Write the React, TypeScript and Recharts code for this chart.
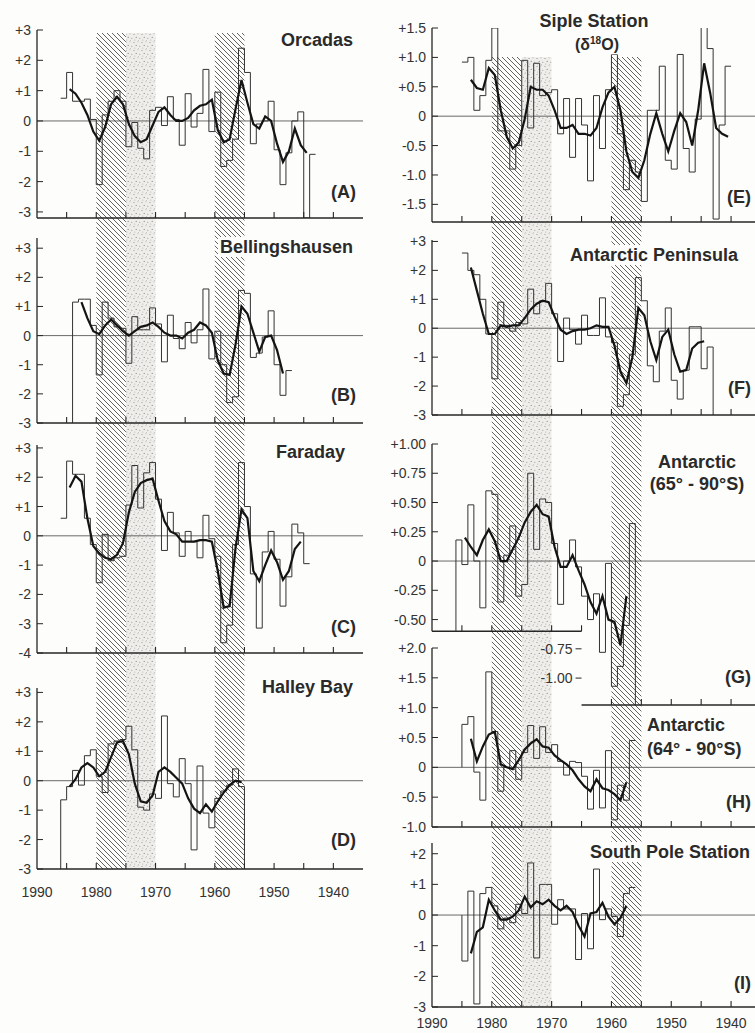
import React from 'react';
import { ComposedChart, Line, Area, XAxis, YAxis, ReferenceLine } from 'recharts';

// Annual temperature anomalies. Bar i spans the years [start - i - 1, start - i].
const orcadasStart = 1986;
const orcadasValues = [0.75, 1.6, 0.65, 0.65, 0.72, 0.05, -2.1, 0.2, 0.65, 1.0, 0.65, -0.85, -0.05, -0.9, -1.25, 0.35, 0.45, -0.15, 0.8, 0.05, -0.8, 0.9, -0.2, 0.25, 1.7, -0.35, 0.95, -1.5, -1.3, -0.6, 2.4, 1.6, -0.75, -0.1, 0.0, 0.65, -0.95, -2.1, -1.05, 0.0, 0.3, -3.2, -1.1];
const orcadasSmooth = [null, 1.05, 0.9, 0.6, 0.2, -0.35, -0.65, -0.2, 0.55, 0.8, 0.55, -0.1, -0.5, -0.7, -0.6, -0.15, 0.3, 0.45, 0.2, 0.0, 0.0, 0.1, 0.35, 0.5, 0.55, 0.7, -0.3, -0.7, -0.6, 0.4, 1.35, 0.6, -0.1, -0.25, 0.15, 0.0, -0.75, -1.35, -1.0, -0.25, -0.8, -1.05, null];

const bellingsStart = 1984;
const bellingsValues = [1.15, 1.25, 1.25, 0.35, -1.35, 1.15, 0.6, 0.3, 0.25, -0.95, 0.65, 0.2, 0.2, 0.95, 0.4, -0.9, 0.7, -0.1, -0.45, 0.45, -0.25, 0.2, 1.6, -0.8, 0.15, -1.0, -2.3, -2.1, 1.55, 1.45, -0.75, -0.6, -0.05, 0.85, -1.0, -2.05, -1.2];
const bellingsSmooth = [null, 1.15, 0.6, 0.15, 0.05, 0.35, 0.55, 0.35, 0.15, 0.0, 0.15, 0.3, 0.35, 0.45, 0.3, 0.1, 0.0, 0.0, -0.1, 0.1, 0.2, 0.45, 0.35, 0.1, -0.85, -1.3, -1.35, -0.3, 1.0, 0.75, 0.1, -0.55, -0.05, 0.0, -0.5, -1.3, null];

const faradayStart = 1986;
const faradayValues = [0.6, 2.55, 2.1, 2.1, 0.6, -0.3, -1.6, 0.05, -0.85, -0.75, -0.7, 1.05, 2.4, 0.95, 2.15, 2.5, 1.25, -0.5, 0.8, 0.1, -0.7, 0.15, -0.2, -0.75, 0.7, -0.1, -0.7, -3.65, -3.05, -0.3, 2.5, 1.0, -1.3, -3.15, -0.55, 0.15, -0.8, -2.4, -1.4, 0.4, 0.1, -0.95];
const faradaySmooth = [null, 1.65, 2.05, 1.85, 0.6, -0.35, -0.6, -0.75, -0.8, -0.65, -0.25, 0.8, 1.5, 1.8, 1.9, 1.95, 1.2, 0.5, 0.15, 0.05, -0.2, -0.2, -0.2, -0.15, -0.15, -0.2, -1.2, -2.45, -2.4, -0.4, 0.9, 0.6, -1.2, -1.55, -1.0, -0.5, -0.9, -1.5, -1.2, -0.45, -0.2, null];

const halleyStart = 1986;
const halleyValues = [-0.65, -0.2, 0.35, -0.15, 0.85, 1.05, 0.15, -0.4, 1.25, 1.35, 1.4, 1.85, 1.05, -0.9, -1.0, -0.45, -0.6, 2.2, -0.1, -0.55, 0.75, -0.1, -2.35, 0.5, -1.1, -1.6, -0.6, -0.35, -0.15, 0.4, -0.2];
const halleySmooth = [null, -0.2, 0.05, 0.45, 0.6, 0.45, 0.15, 0.3, 0.8, 1.3, 1.35, 0.9, -0.1, -0.7, -0.75, -0.5, 0.3, 0.45, 0.3, 0.1, -0.1, -0.6, -0.95, -1.1, -0.8, -1.05, -0.7, -0.4, -0.15, 0.0, -0.05];

const sipleStart = 1985;
const sipleValues = [0.92, 1.0, 0.1, 0.35, 0.95, 1.5, -0.25, -0.25, -0.9, -0.5, 0.95, -0.2, 0.9, 0.35, 0.4, 0.45, -0.3, 0.3, -0.7, 0.3, -0.15, -1.1, 0.35, -0.55, 0.45, 1.05, -0.3, -1.25, -0.75, -0.95, -1.45, 0.1, 0.1, 0.85, -0.75, -0.9, 1.05, -0.55, -0.95, -0.05, 1.55, 1.15, -1.75, -0.15, 0.85];
const sipleSmooth = [null, 0.62, 0.48, 0.45, 0.82, 0.7, 0.1, -0.35, -0.55, -0.45, -0.05, 0.5, 0.45, 0.45, 0.35, 0.1, -0.2, -0.2, -0.15, -0.3, -0.3, -0.33, -0.2, 0.15, 0.4, 0.5, 0.1, -0.6, -0.95, -1.05, -0.75, -0.3, 0.05, -0.3, -0.6, -0.25, 0.05, -0.1, -0.5, 0.1, 0.9, 0.4, -0.2, -0.3, -0.35];

const peninsulaStart = 1985;
const peninsulaValues = [2.6, 2.0, 1.85, 1.0, -0.2, -1.75, 0.9, 0.1, -0.1, 0.2, 0.15, 1.35, 0.5, 0.95, 1.55, 0.5, -1.15, 0.35, -0.05, -0.55, 0.45, -0.25, -0.25, 1.05, -0.3, -0.5, -2.7, -2.3, -0.9, 1.75, 0.95, -1.3, -1.85, -0.1, 0.7, -1.8, -2.45, -1.45, 0.05, 0.05, -1.4, -0.65];
const peninsulaSmooth = [null, 2.1, 1.3, 0.5, -0.2, -0.2, 0.1, 0.05, 0.1, 0.1, 0.35, 0.65, 0.85, 0.95, 0.9, 0.4, -0.05, -0.2, -0.1, -0.05, -0.05, 0.0, 0.1, 0.05, 0.05, -0.6, -1.5, -1.9, -1.0, 0.7, 0.45, -0.45, -1.1, -0.3, -0.05, -0.9, -1.5, -1.45, -0.7, -0.5, -0.45, null];

const ant65Start = 1986;
const ant65Values = [0.18, -0.03, 0.48, 0.0, -0.4, 0.6, 0.57, -0.35, 0.05, 0.3, -0.3, -0.2, 0.75, 0.1, 0.53, 0.5, 0.15, -0.37, 0.0, 0.18, -0.05, -0.3, -0.5, -0.28, -0.78, -0.02, -1.07, -0.9, -0.55, 0.32];
const ant65Smooth = [null, 0.2, 0.12, 0.05, 0.18, 0.27, 0.17, 0.0, 0.0, 0.1, 0.2, 0.33, 0.42, 0.48, 0.4, 0.38, 0.12, -0.05, -0.05, 0.05, -0.08, -0.2, -0.35, -0.45, -0.3, -0.5, -0.52, -0.72, -0.3, null];

const ant64Start = 1985;
const ant64Values = [0.72, 0.85, -0.08, -0.55, 1.6, 0.6, -0.4, 0.0, 0.28, -0.2, 0.25, 0.7, 0.15, 0.68, 0.25, 0.38, 0.1, -0.13, 0.1, 0.08, -0.15, -0.7, -0.05, -0.68, 0.28, -0.88, -0.3, -0.55, 0.45];
const ant64Smooth = [null, 0.48, 0.1, 0.35, 0.55, 0.6, 0.05, 0.0, -0.03, 0.12, 0.3, 0.4, 0.47, 0.35, 0.33, 0.2, 0.12, 0.05, -0.05, -0.2, -0.32, -0.4, -0.2, -0.35, -0.38, -0.45, -0.55, -0.25, null];

const southPoleStart = 1985;
const southPoleValues = [-1.5, 0.78, -2.9, 0.7, 0.9, 0.3, -0.45, -0.1, -0.25, 0.35, 0.05, 1.7, -1.4, 1.0, 1.0, -0.3, 0.5, 0.2, 0.2, -1.45, 0.05, -1.1, 1.5, -0.15, 0.2, -0.05, -0.7, 0.7, 0.9];
const southPoleSmooth = [null, -1.25, -0.55, -0.4, 0.5, 0.15, -0.15, -0.15, -0.05, 0.15, 0.6, 0.25, 0.45, 0.35, 0.5, 0.3, 0.15, 0.3, 0.1, -0.35, -0.7, 0.05, 0.1, 0.4, -0.05, -0.3, -0.1, 0.3, null];

const yearTicks = [1990, 1985, 1980, 1975, 1970, 1965, 1960, 1955, 1950, 1945, 1940];
const yearLabels = [1990, 1980, 1970, 1960, 1950, 1940];
const ticks3 = [3, 2, 1, 0, -1, -2, -3];
const ticks4 = [3, 2, 1, 0, -1, -2, -3, -4];
const ticksSiple = [1.5, 1.0, 0.5, 0, -0.5, -1.0, -1.5];
const ticksAnt65 = [1, 0.75, 0.5, 0.25, 0, -0.25, -0.5, -0.75, -1];
const ticksAnt64 = [2, 1.5, 1, 0.5, 0, -0.5, -1];
const ticksPole = [2, 1, 0, -1, -2, -3];

// shaded periods (years)
const hatchSpans = [[1980, 1975], [1960, 1955]];
const stippleSpans = [[1975, 1970]];

const INK = '#262626';
const BG = '#fdfdfb';
const FONT = '"Liberation Sans", Arial, sans-serif';

const LEFT = { plotLeft: 37, plotW: 326, xMin: 1935, yW: 36 };
const RIGHT = { plotLeft: 432, plotW: 323, xMin: 1936, yW: 48 };

const fmt = (v: number, d: number) => (v === 0 ? '0' : (v > 0 ? '+' : '') + v.toFixed(d));

function stepPoints(start: number, values: number[], startDrop?: number, endDrop?: number) {
  const pts: { x: number; y: number }[] = [];
  if (startDrop !== undefined) pts.push({ x: start, y: startDrop });
  values.forEach((v, i) => {
    pts.push({ x: start - i, y: v });
    pts.push({ x: start - i - 1, y: v });
  });
  if (endDrop !== undefined) pts.push({ x: start - values.length, y: endDrop });
  return pts;
}

function smoothPoints(start: number, smooth: (number | null)[]) {
  return smooth
    .map((s, i) => (s === null ? null : { x: start - i - 0.5, y: s }))
    .filter((p) => p !== null) as { x: number; y: number }[];
}

type Col = typeof LEFT;

interface PanelProps {
  col: Col;
  top: number;
  bottom: number;
  yMin: number;
  yMax: number;
  yTicks: number[];
  digits: number;
  start: number;
  values: number[];
  smooth: (number | null)[];
  startDrop?: number;
  endDrop?: number;
  labelOffset?: number;
  broken?: { year: number; axisY: number };
}

function Panel(p: PanelProps) {
  const { plotLeft, plotW, xMin, yW } = p.col;
  const plotH = p.bottom - p.top;
  const mt = 12;
  const xh = p.labelOffset ? p.labelOffset + 12 : 12;
  const pxPerYear = plotW / (1990 - xMin);
  const pxPerUnit = plotH / (p.yMax - p.yMin);
  const lift = p.broken ? (p.broken.axisY - p.yMin) * pxPerUnit : 0;
  const shift = p.broken ? (1990 - p.broken.year) * pxPerYear : 0;

  const steps = stepPoints(p.start, p.values, p.startDrop, p.endDrop);
  const smoothPts = smoothPoints(p.start, p.smooth);

  const renderYTick = (props: any) => {
    const { x, y, payload } = props;
    const v = payload.value as number;
    const label = fmt(v, p.digits);
    if (p.broken && v < p.broken.axisY) {
      const bx = x + shift;
      return (
        <g>
          <line x1={bx - 6} x2={bx} y1={y} y2={y} stroke={INK} strokeWidth={1} />
          <text x={bx - 9} y={y} textAnchor="end" dominantBaseline="central" fontSize={14} fontFamily={FONT} fill="#333">
            {label}
          </text>
        </g>
      );
    }
    return (
      <g>
        <line x1={x} x2={x + 6} y1={y} y2={y} stroke={INK} strokeWidth={1} />
        <text x={x - 6} y={y} textAnchor="end" dominantBaseline="central" fontSize={14} fontFamily={FONT} fill="#333">
          {label}
        </text>
      </g>
    );
  };

  const renderXTick = (props: any) => {
    const { x, y, payload } = props;
    const yr = payload.value as number;
    const up = p.broken && yr >= p.broken.year ? lift : 0;
    return (
      <g>
        {yr !== 1990 && <line x1={x} x2={x} y1={y - up} y2={y - up - 6} stroke={INK} strokeWidth={1.1} />}
        {p.labelOffset && yearLabels.includes(yr) ? (
          <text x={x} y={y + p.labelOffset} textAnchor="middle" dominantBaseline="central" fontSize={14} fontFamily={FONT} fill="#333">
            {yr}
          </text>
        ) : null}
      </g>
    );
  };

  const axisStyle = { stroke: INK, strokeWidth: 1.3 };

  return (
    <div style={{ position: 'absolute', left: plotLeft - yW, top: p.top - mt }}>
      <ComposedChart width={yW + plotW} height={mt + plotH + xh} margin={{ top: mt, right: 0, bottom: 0, left: 0 }}>
        <XAxis
          type="number"
          dataKey="x"
          domain={[xMin, 1990]}
          reversed
          ticks={yearTicks}
          interval={0}
          height={xh}
          tickSize={0}
          tickMargin={0}
          tickLine={false}
          axisLine={p.broken ? false : axisStyle}
          tick={renderXTick}
          allowDataOverflow
        />
        <YAxis
          type="number"
          domain={[p.yMin, p.yMax]}
          ticks={p.yTicks}
          interval={0}
          width={yW}
          tickSize={0}
          tickMargin={0}
          tickLine={false}
          axisLine={p.broken ? false : axisStyle}
          tick={renderYTick}
          allowDataOverflow
        />
        <ReferenceLine y={0} stroke="#444" strokeWidth={0.8} />
        {p.broken && (
          <ReferenceLine segment={[{ x: 1990, y: p.yMax }, { x: 1990, y: p.broken.axisY }]} stroke={INK} strokeWidth={1.3} />
        )}
        {p.broken && (
          <ReferenceLine segment={[{ x: 1990, y: p.broken.axisY }, { x: p.broken.year, y: p.broken.axisY }]} stroke={INK} strokeWidth={1.3} />
        )}
        {p.broken && (
          <ReferenceLine segment={[{ x: p.broken.year, y: p.yMin }, { x: xMin, y: p.yMin }]} stroke={INK} strokeWidth={1.3} />
        )}
        <Line data={steps} dataKey="y" type="linear" stroke="#333" strokeWidth={1} dot={false} activeDot={false} isAnimationActive={false} />
        <Line data={smoothPts} dataKey="y" type="linear" stroke="#141414" strokeWidth={2.2} dot={false} activeDot={false} isAnimationActive={false} />
      </ComposedChart>
    </div>
  );
}

// shaded periods drawn as full-height areas behind a whole column of panels
function Bands({ col, top, bottom }: { col: Col; top: number; bottom: number }) {
  const spanData = (a: number, b: number) => [{ x: a, y: 1 }, { x: b, y: 1 }];
  return (
    <div style={{ position: 'absolute', left: col.plotLeft, top }}>
      <ComposedChart width={col.plotW} height={bottom - top} margin={{ top: 0, right: 0, bottom: 0, left: 0 }}>
        <XAxis type="number" dataKey="x" domain={[col.xMin, 1990]} reversed hide allowDataOverflow />
        <YAxis type="number" domain={[0, 1]} hide allowDataOverflow />
        {stippleSpans.map(([a, b]) => (
          <Area key={'s' + a} data={spanData(a, b)} dataKey="y" type="linear" baseValue={0} fill="url(#stipple)" fillOpacity={1} stroke="none" dot={false} activeDot={false} isAnimationActive={false} />
        ))}
        {hatchSpans.map(([a, b]) => (
          <Area key={'h' + a} data={spanData(a, b)} dataKey="y" type="linear" baseValue={0} fill="url(#hatch)" fillOpacity={1} stroke="none" dot={false} activeDot={false} isAnimationActive={false} />
        ))}
      </ComposedChart>
    </div>
  );
}

const titleStyle: React.CSSProperties = {
  position: 'absolute',
  fontWeight: 700,
  fontSize: 18,
  lineHeight: 1,
  color: '#2a2a2a',
  background: BG,
  padding: '1px 2px',
  whiteSpace: 'nowrap',
};

function Label({ text, right, cx, left, cy, size }: { text: React.ReactNode; right?: number; cx?: number; left?: number; cy: number; size?: number }) {
  const style: React.CSSProperties = { ...titleStyle, top: cy, fontSize: size || 18 };
  if (right !== undefined) {
    style.right = 755 - right;
    style.transform = 'translateY(-50%)';
  } else if (cx !== undefined) {
    style.left = cx;
    style.transform = 'translate(-50%, -50%)';
  } else {
    style.left = left;
    style.transform = 'translateY(-50%)';
  }
  return <div style={style}>{text}</div>;
}

export default function App() {
  return (
    <div style={{ position: 'absolute', left: 0, top: 0, width: 755, height: 1033, background: BG, overflow: 'hidden', fontFamily: FONT }}>
      <svg width={2} height={2} style={{ position: 'absolute', left: -10, top: -10 }}>
        <defs>
          <pattern id="hatch" width="5" height="5" patternUnits="userSpaceOnUse">
            <rect width="5" height="5" fill={BG} />
            <path d="M-1,-1 L6,6 M4,-1 L6,1 M-1,4 L1,6" stroke="#3a3a3a" strokeWidth="0.8" />
          </pattern>
          <pattern id="stipple" width="8" height="8" patternUnits="userSpaceOnUse">
            <rect width="8" height="8" fill="#efeeeb" />
            <circle cx="1" cy="1.5" r="0.6" fill="#8a8a8a" />
            <circle cx="5" cy="0.8" r="0.5" fill="#a0a0a0" />
            <circle cx="3.2" cy="4.4" r="0.6" fill="#8a8a8a" />
            <circle cx="6.8" cy="5.2" r="0.5" fill="#808080" />
            <circle cx="1.8" cy="7" r="0.5" fill="#a0a0a0" />
            <circle cx="5.6" cy="7.4" r="0.4" fill="#8a8a8a" />
          </pattern>
        </defs>
      </svg>

      <Bands col={LEFT} top={33} bottom={869} />
      <Bands col={RIGHT} top={57} bottom={1007} />

      <Panel col={LEFT} top={30} bottom={218} yMin={-3.2} yMax={3} yTicks={ticks3} digits={0} start={orcadasStart} values={orcadasValues} smooth={orcadasSmooth} />
      <Panel col={LEFT} top={238} bottom={423} yMin={-3} yMax={3.35} yTicks={ticks3} digits={0} start={bellingsStart} values={bellingsValues} smooth={bellingsSmooth} startDrop={-3} />
      <Panel col={LEFT} top={445} bottom={653} yMin={-4} yMax={3.1} yTicks={ticks4} digits={0} start={faradayStart} values={faradayValues} smooth={faradaySmooth} />
      <Panel col={LEFT} top={688} bottom={869} yMin={-3} yMax={3.15} yTicks={ticks3} digits={0} start={halleyStart} values={halleyValues} smooth={halleySmooth} startDrop={-3} endDrop={-3} labelOffset={23} />

      <Panel col={RIGHT} top={28} bottom={222} yMin={-1.8} yMax={1.5} yTicks={ticksSiple} digits={1} start={sipleStart} values={sipleValues} smooth={sipleSmooth} />
      <Panel col={RIGHT} top={240} bottom={415} yMin={-3} yMax={3.05} yTicks={ticks3} digits={0} start={peninsulaStart} values={peninsulaValues} smooth={peninsulaSmooth} endDrop={-3} />
      <Panel col={RIGHT} top={444} bottom={705} yMin={-1.23} yMax={1} yTicks={ticksAnt65} digits={2} start={ant65Start} values={ant65Values} smooth={ant65Smooth} startDrop={-0.6} endDrop={-1.23} broken={{ year: 1965, axisY: -0.6 }} />
      <Panel col={RIGHT} top={648} bottom={827} yMin={-1} yMax={2} yTicks={ticksAnt64} digits={1} start={ant64Start} values={ant64Values} smooth={ant64Smooth} startDrop={0} />
      <Panel col={RIGHT} top={843} bottom={1007} yMin={-3} yMax={2.35} yTicks={ticksPole} digits={0} start={southPoleStart} values={southPoleValues} smooth={southPoleSmooth} startDrop={0} labelOffset={16} />

      <Label text="Orcadas" right={355} cy={40} />
      <Label text="(A)" right={358} cy={192} />
      <Label text="Bellingshausen" right={355} cy={247} />
      <Label text="(B)" right={358} cy={395} />
      <Label text="Faraday" right={347} cy={452} />
      <Label text="(C)" right={358} cy={627} />
      <Label text="Halley Bay" right={355} cy={687} />
      <Label text="(D)" right={358} cy={840} />

      <Label text="Siple Station" cx={594} cy={21} />
      <Label text={<span>(δ<sup style={{ fontSize: 10 }}>18</sup>O)</span>} cx={597} cy={45} size={16} />
      <Label text="(E)" right={753} cy={197} />
      <Label text="Antarctic Peninsula" right={740} cy={255} />
      <Label text="(F)" right={753} cy={388} />
      <Label text="Antarctic" cx={697} cy={462} />
      <Label text="(65° - 90°S)" cx={697} cy={484} />
      <Label text="(G)" right={753} cy={677} />
      <Label text="Antarctic" left={645} cy={725} />
      <Label text="(64° - 90°S)" left={645} cy={749} />
      <Label text="(H)" right={753} cy={802} />
      <Label text="South Pole Station" right={752} cy={852} />
      <Label text="(I)" right={753} cy={983} />
    </div>
  );
}
